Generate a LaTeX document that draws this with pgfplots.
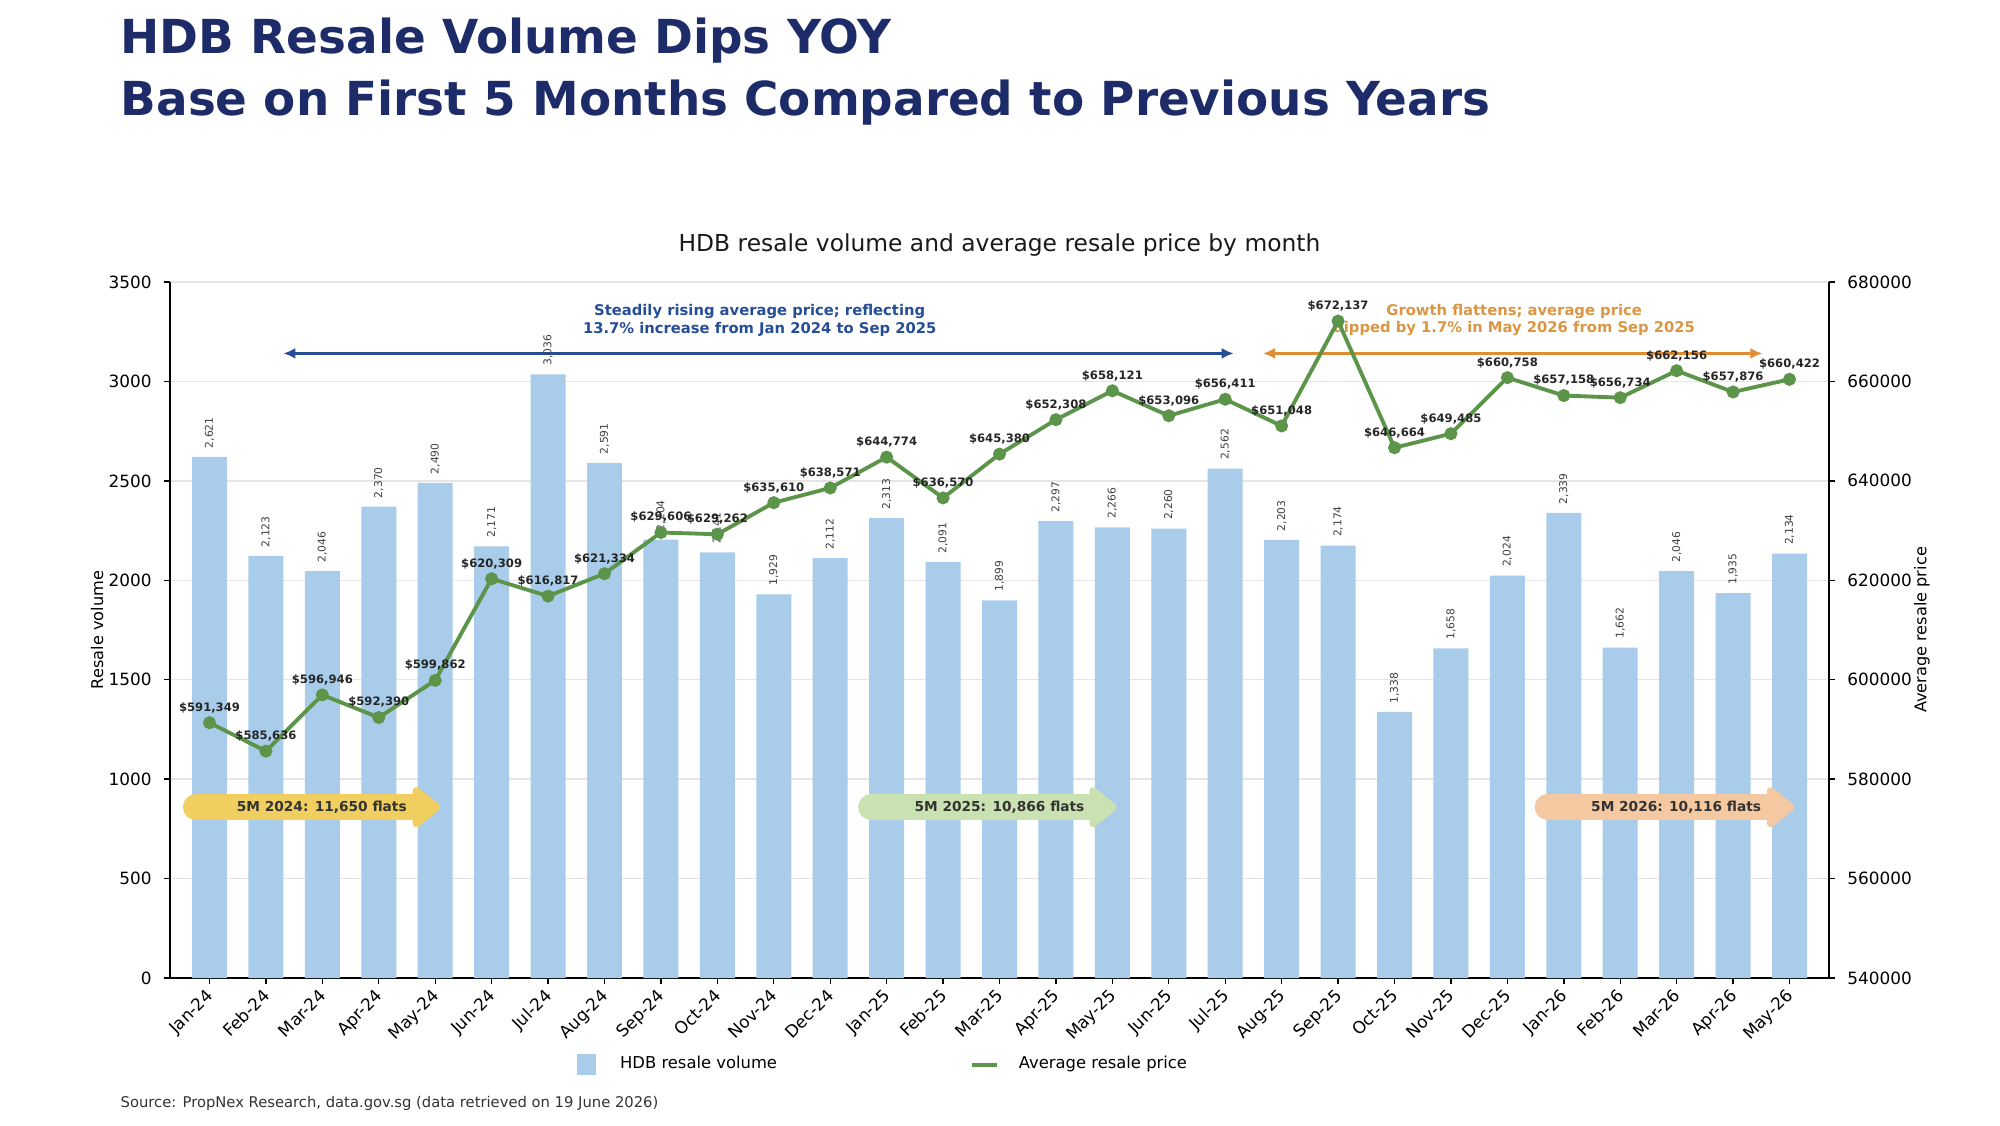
\documentclass[border=0pt]{standalone}
\usepackage{fontspec}
\setmainfont{DejaVu Sans}
\usepackage{pgfplots}
\pgfplotsset{compat=1.18}
\usepackage{pgfplotstable}
\usetikzlibrary{arrows.meta}

\definecolor{barblue}{RGB}{168,204,234}
\definecolor{linegreen}{RGB}{92,148,74}
\definecolor{titlenavy}{RGB}{30,43,105}
\definecolor{annblue}{RGB}{38,78,150}
\definecolor{annorange}{RGB}{224,140,52}
\definecolor{txtorange}{RGB}{218,150,66}
\definecolor{fatyellow}{RGB}{240,206,95}
\definecolor{fatgreen}{RGB}{202,226,178}
\definecolor{fatpeach}{RGB}{244,200,160}

\pgfplotstableread{
x vol vlab price plab
0 2621 2,621 591349 591,349
1 2123 2,123 585636 585,636
2 2046 2,046 596946 596,946
3 2370 2,370 592390 592,390
4 2490 2,490 599862 599,862
5 2171 2,171 620309 620,309
6 3036 3,036 616817 616,817
7 2591 2,591 621334 621,334
8 2204 2,204 629606 629,606
9 2141 2,141 629262 629,262
10 1929 1,929 635610 635,610
11 2112 2,112 638571 638,571
12 2313 2,313 644774 644,774
13 2091 2,091 636570 636,570
14 1899 1,899 645380 645,380
15 2297 2,297 652308 652,308
16 2266 2,266 658121 658,121
17 2260 2,260 653096 653,096
18 2562 2,562 656411 656,411
19 2203 2,203 651048 651,048
20 2174 2,174 672137 672,137
21 1338 1,338 646664 646,664
22 1658 1,658 649485 649,485
23 2024 2,024 660758 660,758
24 2339 2,339 657158 657,158
25 1662 1,662 656734 656,734
26 2046 2,046 662156 662,156
27 1935 1,935 657876 657,876
28 2134 2,134 660422 660,422
}\datatable

\pgfplotsset{
  common/.style={
    at={(17mm,14.7mm)}, anchor=south west,
    scale only axis, width=165.9mm, height=69.6mm,
    xmin=-0.7, xmax=28.7,
    tick align=outside, major tick length=0.6mm,
    tick style={black, line width=0.4pt},
    axis line style={black, line width=0.5pt},
    tick label style={font=\fontsize{4.8}{5.5}\selectfont},
    /pgf/number format/assume math mode=true,
    scaled ticks=false,
    /pgf/number format/fixed,
    /pgf/number format/1000 sep={},
  }
}

\begin{document}
\begin{tikzpicture}[x=1mm,y=1mm]
\useasboundingbox (0,0) rectangle (200,112.5);

\node[anchor=base west, text=titlenavy, inner sep=0pt, font=\fontsize{13.33}{16}\bfseries\selectfont] at (12,107.2) {HDB Resale Volume Dips YOY};
\node[anchor=base west, text=titlenavy, inner sep=0pt, font=\fontsize{13.33}{16}\bfseries\selectfont] at (12,101.0) {Base on First 5 Months Compared to Previous Years};

\node[anchor=center, font=\fontsize{6.65}{7.5}\selectfont, text=black!90] at (99.95,88.0) {HDB resale volume and average resale price by month};

\node[anchor=west, inner sep=0pt, font=\fontsize{4.2}{5}\selectfont, text=black!80] at (12,2.2) {Source: PropNex Research, data.gov.sg (data retrieved on 19 June 2026)};

\begin{axis}[common,
  ymin=0, ymax=3500, ytick distance=500,
  axis x line*=bottom, axis y line*=left,
  xtick={0,...,28},
  xticklabels={Jan-24,Feb-24,Mar-24,Apr-24,May-24,Jun-24,Jul-24,Aug-24,Sep-24,Oct-24,Nov-24,Dec-24,Jan-25,Feb-25,Mar-25,Apr-25,May-25,Jun-25,Jul-25,Aug-25,Sep-25,Oct-25,Nov-25,Dec-25,Jan-26,Feb-26,Mar-26,Apr-26,May-26},
  x tick label style={xshift=-1.2pt, rotate=45, anchor=north east, inner sep=0.6pt},
  ymajorgrids, grid style={black!10, line width=0.4pt},
  ylabel={Resale volume},
  ylabel style={at={(rel axis cs:0,0.5)}, anchor=center, yshift=7.3mm, font=\fontsize{4.6}{5}\selectfont},
  legend style={at={(0.245,-0.125)}, anchor=west, draw=none, fill=none, inner sep=0pt,
    font=\fontsize{4.66}{5}\selectfont, legend columns=2,
    /tikz/every even column/.append style={column sep=18.6mm}},
  legend cell align=left,
]
\addplot[ybar, bar width=0.62, fill=barblue, draw=none,
  point meta=explicit symbolic,
  nodes near coords={\pgfplotspointmeta},
  every node near coord/.append style={rotate=90, anchor=west, inner sep=0.8mm,
    font=\fontsize{3.05}{3.5}\selectfont, text=black!75},
  legend image code/.code={\fill[barblue] (0mm,-1.0mm) rectangle (1.9mm,1.1mm); \path (3.6mm,0mm);}
] table[x=x, y=vol, meta=vlab] {\datatable};
\addlegendentry{HDB resale volume}
\addlegendimage{legend image code/.code={\draw[linegreen, line width=1.2pt] (0mm,0mm) -- (2.5mm,0mm); \path (3.9mm,0mm);}}
\addlegendentry{Average resale price}

% annotations
\draw[annblue, line width=0.8pt, {Latex[length=1.2mm,width=1.1mm]}-{Latex[length=1.2mm,width=1.1mm]}] (axis cs:1.31,3141) -- (axis cs:18.15,3141);
\node[align=center, text=annblue, font=\fontsize{4.2}{5}\bfseries\selectfont] at (axis cs:9.75,3308) {Steadily rising average price; reflecting\\13.7\% increase from Jan 2024 to Sep 2025};
\draw[annorange, line width=0.8pt, {Latex[length=1.2mm,width=1.1mm]}-{Latex[length=1.2mm,width=1.1mm]}] (axis cs:18.67,3141) -- (axis cs:27.52,3141);
\node[align=center, text=txtorange, font=\fontsize{4.2}{5}\bfseries\selectfont] at (axis cs:23.12,3308) {Growth flattens; average price\\dipped by 1.7\% in May 2026 from Sep 2025};

\draw[fatyellow, line width=2.55mm, line cap=round, -{Triangle[round, length=3.0mm, width=4.6mm]}] (axis cs:-0.245,859) -- (axis cs:4.09,859);
\node[text=black!80, font=\fontsize{3.9}{4.5}\bfseries\selectfont] at (axis cs:1.99,859) {5M 2024: 11,650 flats};
\draw[fatgreen, line width=2.55mm, line cap=round, -{Triangle[round, length=3.0mm, width=4.6mm]}] (axis cs:11.72,859) -- (axis cs:16.08,859);
\node[text=black!80, font=\fontsize{3.9}{4.5}\bfseries\selectfont] at (axis cs:14.0,859) {5M 2025: 10,866 flats};
\draw[fatpeach, line width=2.55mm, line cap=round, -{Triangle[round, length=3.0mm, width=4.6mm]}] (axis cs:23.71,859) -- (axis cs:28.09,859);
\node[text=black!80, font=\fontsize{3.9}{4.5}\bfseries\selectfont] at (axis cs:25.99,859) {5M 2026: 10,116 flats};
\end{axis}

\begin{axis}[common,
  ymin=540000, ymax=680000, ytick distance=20000,
  axis x line=none, axis y line*=right,
  xtick=\empty,
  ylabel={Average resale price},
  ylabel style={at={(rel axis cs:1,0.5)}, anchor=center, rotate=0, yshift=-9.3mm, font=\fontsize{4.6}{5}\selectfont},
]
\addplot[linegreen, line width=1.1pt, mark=*, mark size=0.45mm,
  mark options={fill=linegreen, draw=linegreen},
  point meta=explicit symbolic,
  nodes near coords={\$\pgfplotspointmeta},
  every node near coord/.append style={anchor=south, inner sep=0pt, yshift=0.8mm,
    font=\fontsize{3.3}{4}\bfseries\selectfont, text=black!85},
] table[x=x, y=price, meta=plab] {\datatable};
\end{axis}
\end{tikzpicture}
\end{document}
